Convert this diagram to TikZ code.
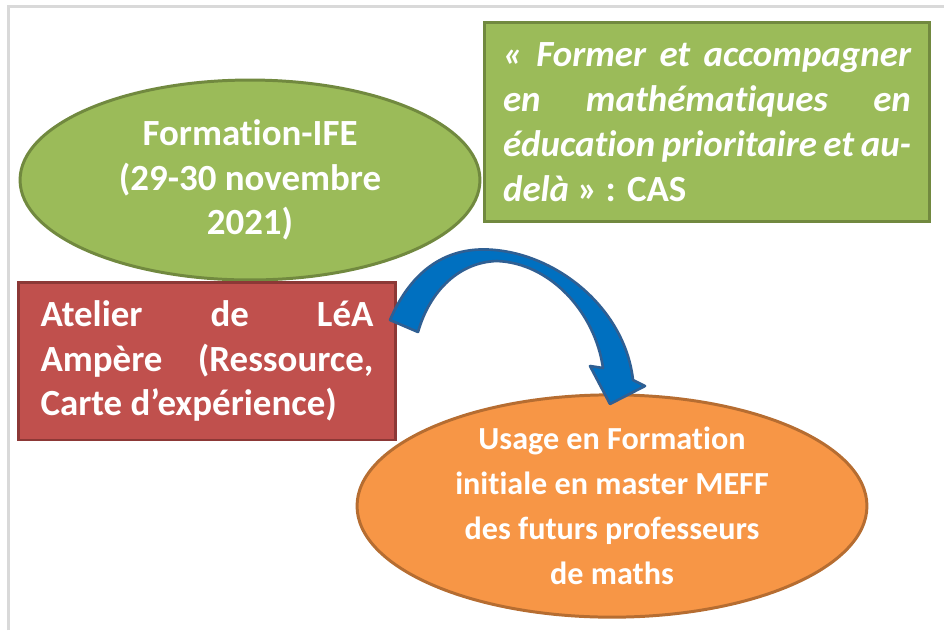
\documentclass[tikz,border=0pt]{standalone}
\usepackage{fontspec}
\setmainfont{Carlito}[Ligatures=NoCommon]
\usetikzlibrary{shapes.geometric}
\definecolor{cadre}{HTML}{D9D9D9}
\definecolor{vertfond}{HTML}{9BBB59}
\definecolor{vertbord}{HTML}{71893F}
\definecolor{rougefond}{HTML}{C0504D}
\definecolor{rougebord}{HTML}{8C3836}
\definecolor{orangefond}{HTML}{F79646}
\definecolor{orangebord}{HTML}{B66D31}
\definecolor{bleufond}{HTML}{0070C0}
\definecolor{bleubord}{HTML}{2F5F93}
\tikzset{
  boite/.style={draw, line width=1.7pt, text=white, inner sep=0pt,
    font=\bfseries\fontsize{21}{25.5}\selectfont},
  bulle/.style={boite, ellipse, align=center},
  cadrebox/.style={boite, rectangle, align=justify}
}

\begin{document}
\begin{tikzpicture}[x=0.02cm,y=-0.02cm]
\useasboundingbox (0,0) rectangle (944,630);
\draw[line width=1.2pt, color=cadre] (8.5,630)--(8.5,6.5)--(944,6.5);
\node[bulle, fill=vertfond, draw=vertbord, minimum width=9.2cm, minimum height=4cm] (ife) at (250,180)
  {Formation-IFE\\(29-30 novembre\\2021)};
\node[cadrebox, fill=vertfond, draw=vertbord, minimum width=8.92cm, minimum height=4cm, text width=8.16cm] (cas) at (707,122)
  {\textit{« Former et accompagner\linebreak en mathématiques en\linebreak éducation prioritaire et au-\linebreak delà} » : CAS};
\node[cadrebox, fill=rougefond, draw=rougebord, minimum width=7.56cm, minimum height=3.16cm, text width=6.66cm] (lea) at (207,361)
  {Atelier de LéA\linebreak Ampère (Ressource,\linebreak Carte d’expérience)};
\node[bulle, fill=orangefond, draw=orangebord, minimum width=10.2cm, minimum height=4.04cm,
  font=\bfseries\fontsize{18.3}{25.5}\selectfont] (meef) at (612,506)
  {Usage en Formation\\initiale en master MEFF\\des futurs professeurs\\de maths};
\filldraw[fill=bleufond, draw=bleubord, line width=1.5pt, line join=round]
  (390,320) .. controls (415,262) and (455,246) .. (495,250)
  .. controls (560,256) and (625,310) .. (633,380)
  -- (645,386) -- (610,404) -- (590,366) -- (603,368)
  .. controls (595,312) and (550,263) .. (497,261)
  .. controls (460,262) and (430,290) .. (418,332) -- cycle;
\end{tikzpicture}
\end{document}
